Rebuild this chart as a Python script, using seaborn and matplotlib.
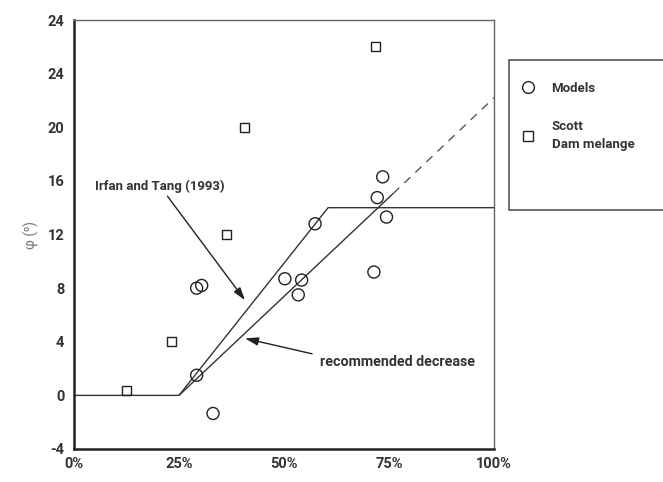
import matplotlib
matplotlib.use("Agg")
import matplotlib.pyplot as plt
import seaborn as sns
import pandas as pd
from matplotlib.patches import Rectangle
from matplotlib.lines import Line2D
from matplotlib.ticker import MultipleLocator

# ---- data ----
models_x = [29.2, 33.1, 29.2, 30.4, 57.4, 50.2, 54.2, 53.4, 73.5, 72.2, 74.4, 71.4]
models_y = [1.5, -1.35, 8.0, 8.2, 12.8, 8.7, 8.6, 7.5, 16.3, 14.75, 13.3, 9.2]
scott_x = [12.6, 23.3, 36.2, 40.5, 71.9]
scott_y = [0.4, 4.0, 12.0, 20.0, 26.0]
irfan_x = [0, 25, 60.5, 100]
irfan_y = [0, 0, 14, 14]
rec_x = [25, 76]
rec_y = [0, 15.06]
rec_ext_x = [76, 100]
rec_ext_y = [15.06, 22.2]
yticks = [-4, 0, 4, 8, 12, 16, 20, 24, 28]
ytick_labels = ["-4", "0", "4", "8", "12", "16", "20", "24", "24"]
xticks = [0, 25, 50, 75, 100]
xtick_labels = ["0%", "25%", "50%", "75%", "100%"]

sns.set_style("white")
plt.rcParams['font.family'] = ['Roboto', 'DejaVu Sans']

fig = plt.figure(figsize=(6.63, 4.82), dpi=100)
ax = fig.add_axes([74/663, 33/482, 420/663, 429/482])

lc = "#333333"
sns.lineplot(x=irfan_x, y=irfan_y, ax=ax, color=lc, lw=1.0, sort=False, estimator=None)
sns.lineplot(x=rec_x, y=rec_y, ax=ax, color=lc, lw=1.0, sort=False, estimator=None)
sns.lineplot(x=rec_ext_x, y=rec_ext_y, ax=ax, color="#555555", lw=1.0, sort=False,
             estimator=None, linestyle=(0, (6, 5)))

sns.scatterplot(x=models_x, y=models_y, ax=ax, marker='o', s=75, facecolors='none',
                edgecolor='#222222', linewidth=1.0, zorder=3)
sns.scatterplot(x=scott_x, y=scott_y, ax=ax, marker='s', s=42, facecolors='none',
                edgecolor='#222222', linewidth=1.0, zorder=3)

ax.set_xlim(0, 100)
ax.set_ylim(-4, 28)
ax.set_xticks(xticks)
ax.set_xticklabels(xtick_labels, fontsize=10.5, fontweight='bold', color='#333333')
ax.set_yticks(yticks)
ax.set_yticklabels(ytick_labels, fontsize=10.5, fontweight='bold', color='#333333')
ax.xaxis.set_minor_locator(MultipleLocator(12.5))
ax.tick_params(axis='x', which='major', direction='inout', length=8, width=1.2, color=lc, pad=2)
ax.tick_params(axis='x', which='minor', direction='inout', length=4, width=1.0, color=lc)
ax.tick_params(axis='y', which='major', direction='out', length=5, width=1.0, color=lc, pad=2)

for s in ['left', 'bottom']:
    ax.spines[s].set_color('#222222')
    ax.spines[s].set_linewidth(1.8)
for s in ['top', 'right']:
    ax.spines[s].set_color('#666666')
    ax.spines[s].set_linewidth(1.0)

ax.set_ylabel("φ (⁰)", fontsize=10, color='#777777', labelpad=6)
ax.set_xlabel("")

ax.annotate("Irfan and Tang (1993)", xy=(40.7, 7.1), xytext=(20.5, 15.1),
            fontsize=9.5, fontweight='bold', color='#333333', ha='center', va='bottom',
            arrowprops=dict(arrowstyle='-|>,head_length=0.8,head_width=0.25', color='#222222',
                            lw=1.0, shrinkA=0, shrinkB=0))
ax.annotate("", xy=(40.7, 4.25), xytext=(56.7, 3.1),
            arrowprops=dict(arrowstyle='-|>,head_length=0.8,head_width=0.25', color='#222222',
                            lw=1.0, shrinkA=0, shrinkB=0))
ax.text(58.5, 2.5, "recommended decrease", fontsize=10.3, fontweight='bold',
        color='#333333', ha='left', va='center')

# legend box (extends beyond figure edge)
fig.patches.append(Rectangle((509/663, 1-210/482), 170/663, 150/482, transform=fig.transFigure,
                             facecolor='white', edgecolor='#555555', lw=1.2, zorder=5))
handles = [Line2D([], [], marker='o', ls='none', mfc='none', mec='#222222', ms=8.5, mew=1.0),
           Line2D([], [], marker='s', ls='none', mfc='none', mec='#222222', ms=6.5, mew=1.0)]
leg = fig.legend(handles, ["Models", "Scott\nDam melange"], loc='upper left',
                 bbox_to_anchor=(508/663, 1-70/482), frameon=False,
                 prop=dict(size=9.5, weight='bold'), labelspacing=1.9, handletextpad=1.2,
                 handlelength=1.2)
for t in leg.get_texts():
    t.set_color('#333333')
    t.set_linespacing(1.5)
leg.set_zorder(6)

fig.savefig("out.png", dpi=100)
